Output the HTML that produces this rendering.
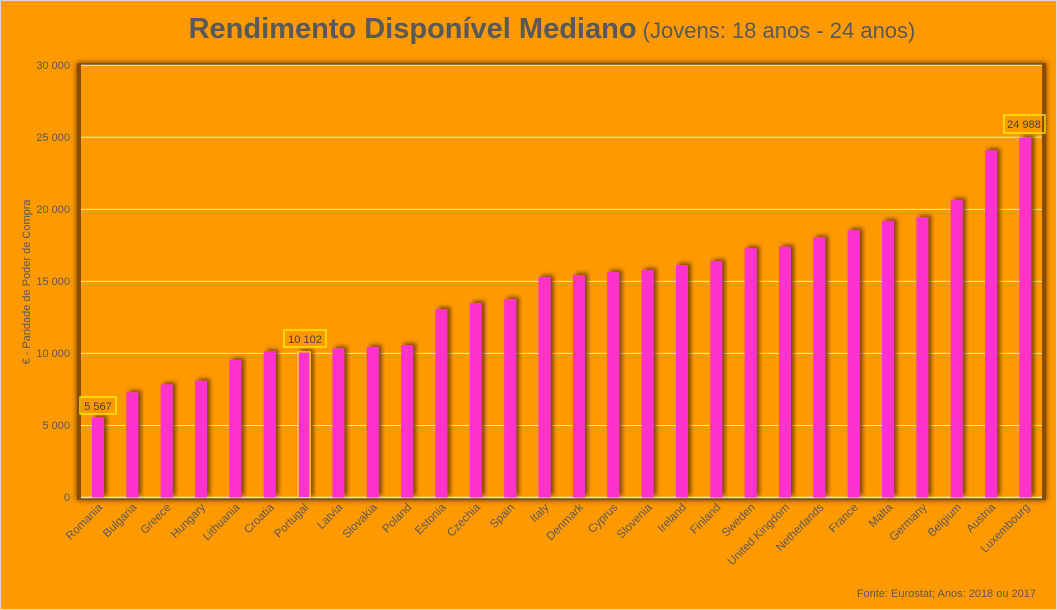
<!DOCTYPE html>
<html><head><meta charset="utf-8"><style>
html,body{margin:0;padding:0;background:#FF9900;}
svg{display:block;font-family:"Liberation Sans",sans-serif;}
</style></head><body>
<svg width="1057" height="610" viewBox="0 0 1057 610">
<defs>
<filter id="sh" x="-50%" y="-10%" width="200%" height="120%">
<feDropShadow dx="3" dy="-2" stdDeviation="2" flood-color="#5a3000" flood-opacity="0.8"/>
</filter>
<filter id="psh" x="-5%" y="-5%" width="110%" height="110%">
<feDropShadow dx="0" dy="0" stdDeviation="3" flood-color="#5a3000" flood-opacity="1"/>
</filter>
</defs>
<rect x="0.5" y="0.5" width="1056" height="609" fill="#FF9900" stroke="#d9d9d9"/>
<text x="552" y="38" text-anchor="middle" fill="#595959" font-size="29"><tspan font-weight="bold">Rendimento Disponível Mediano</tspan><tspan font-size="22"> (Jovens: 18 anos - 24 anos)</tspan></text>
<rect x="77" y="63" width="969" height="437" fill="#8a4d00" filter="url(#psh)"/>
<rect x="81" y="65" width="961" height="433" fill="#FF9900"/>
<g stroke="#e6e6e6" stroke-width="1">
<line x1="81" x2="1042" y1="65.3" y2="65.3"/>
<line x1="81" x2="1042" y1="137.3" y2="137.3"/>
<line x1="81" x2="1042" y1="209.4" y2="209.4"/>
<line x1="81" x2="1042" y1="281.4" y2="281.4"/>
<line x1="81" x2="1042" y1="353.4" y2="353.4"/>
<line x1="81" x2="1042" y1="425.5" y2="425.5"/>
<line x1="81" x2="1042" y1="497.5" y2="497.5" stroke-width="1.5"/>
</g>
<g fill="#595959" font-size="11" text-anchor="end">
<text x="70" y="69">30 000</text><text x="70" y="141">25 000</text><text x="70" y="213">20 000</text>
<text x="70" y="285">15 000</text><text x="70" y="357">10 000</text><text x="70" y="429">5 000</text><text x="70" y="501">0</text>
</g>
<text transform="translate(30,282) rotate(-90)" text-anchor="middle" fill="#595959" font-size="11">€ - Paridade de Poder de Compra</text>
<g id="bars"></g>
<g id="labels" fill="#595959" font-size="11.5" text-anchor="end"></g>
<rect x="80" y="397" width="36" height="17" fill="none" stroke="#FFFF00" stroke-width="1.2"/>
<text x="98" y="410" text-anchor="middle" fill="#404040" font-size="11">5 567</text>
<rect x="284" y="330" width="42" height="17" fill="none" stroke="#FFFF00" stroke-width="1.2"/>
<text x="305" y="343" text-anchor="middle" fill="#404040" font-size="11">10 102</text>
<rect x="1004" y="115" width="41" height="18" fill="none" stroke="#FFFF00" stroke-width="1.2"/>
<text x="1024" y="128" text-anchor="middle" fill="#404040" font-size="11">24 988</text>
<text x="1036" y="597" text-anchor="end" fill="#595959" font-size="11">Fonte:  Eurostat; Anos: 2018 ou 2017</text>
<script>
var d=[["Romania",5567],["Bulgaria",7300],["Greece",7850],["Hungary",8100],["Lithuania",9550],["Croatia",10150],["Portugal",10102],["Latvia",10350],["Slovakia",10450],["Poland",10580],["Estonia",13080],["Czechia",13500],["Spain",13780],["Italy",15300],["Denmark",15440],["Cyprus",15650],["Slovenia",15790],["Ireland",16130],["Finland",16400],["Sweden",17300],["United Kingdom",17400],["Netherlands",18050],["France",18550],["Malta",19200],["Germany",19450],["Belgium",20650],["Austria",24100],["Luxembourg",24988]];
var ns="http://www.w3.org/2000/svg",b=document.getElementById("bars"),l=document.getElementById("labels");
d.forEach(function(e,i){var c=98+34.35*i,h=e[1]*0.01441;
var r=document.createElementNS(ns,"rect");r.setAttribute("x",c-6);r.setAttribute("y",497.5-h);r.setAttribute("width",12);r.setAttribute("height",h);r.setAttribute("fill","#FF33CC");r.setAttribute("filter","url(#sh)");
if(e[0]=="Portugal"){r.setAttribute("stroke","#FFFF00");r.setAttribute("stroke-width","1");}
b.appendChild(r);
var t=document.createElementNS(ns,"text");t.setAttribute("transform","translate("+(c+5)+",508) rotate(-45)");t.textContent=e[0];l.appendChild(t);});
</script>
</svg>
</body></html>
